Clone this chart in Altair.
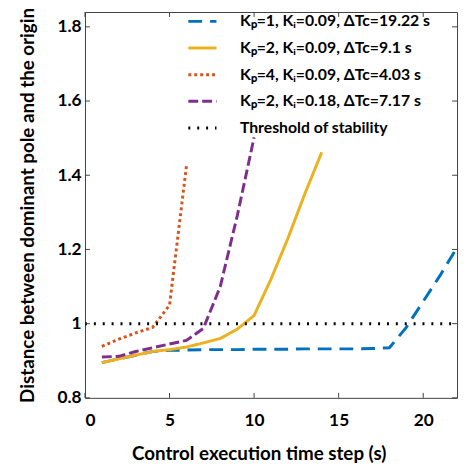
import altair as alt
import pandas as pd

# ---- data ----
series_names = [
    "Kₚ=1, Kᵢ=0.09, ΔTc=19.22 s",
    "Kₚ=2, Kᵢ=0.09, ΔTc=9.1 s",
    "Kₚ=4, Kᵢ=0.09, ΔTc=4.03 s",
    "Kₚ=2, Kᵢ=0.18, ΔTc=7.17 s",
    "Threshold of stability",
]

x_kp1 = [1, 2, 3, 4, 5, 6, 7, 8, 9, 10, 11, 12, 13, 14, 15, 16, 17, 18, 19, 20, 21, 22]
y_kp1 = [0.895, 0.905, 0.915, 0.925, 0.928, 0.929, 0.93, 0.93, 0.93, 0.931, 0.931, 0.931,
         0.932, 0.932, 0.932, 0.932, 0.933, 0.935, 0.99, 1.06, 1.13, 1.205]

x_kp2 = [1, 2, 3, 4, 5, 6, 7, 8, 9, 10, 11, 12, 13, 14]
y_kp2 = [0.895, 0.905, 0.915, 0.925, 0.93, 0.937, 0.948, 0.96, 0.985, 1.022, 1.12, 1.23, 1.35, 1.462]

x_kp4 = [1, 2, 3, 4, 5, 6]
y_kp4 = [0.939, 0.958, 0.975, 0.99, 1.05, 1.425]

x_ki18 = [1, 2, 3, 4, 5, 6, 7, 8, 9, 10]
y_ki18 = [0.91, 0.912, 0.925, 0.935, 0.945, 0.955, 0.987, 1.1, 1.29, 1.502]

x_thr = [0, 22]
y_thr = [1.0, 1.0]

x_ticks = [0, 5, 10, 15, 20]
y_ticks = [0.8, 1.0, 1.2, 1.4, 1.6, 1.8]

colors = ["#0072BD", "#EDB120", "#D95319", "#7E2F8E", "#000000"]
dashes = [[14, 8], [1, 0], [3, 3], [10, 4], [2, 7]]
widths = [3, 3, 3, 3, 2]

rows = []
for name, xs, ys in zip(series_names,
                        [x_kp1, x_kp2, x_kp4, x_ki18, x_thr],
                        [y_kp1, y_kp2, y_kp4, y_ki18, y_thr]):
    for xv, yv in zip(xs, ys):
        rows.append({"series": name, "x": xv, "y": yv})
df = pd.DataFrame(rows)

W, H = 377, 391
FONT = "Lato"

xscale = alt.Scale(domain=[0, 22], nice=False, zero=False)
yscale = alt.Scale(domain=[0.8, 1.84], nice=False, zero=False)

# legend symbol: a long horizontal stroke (57 px) while the entry itself stays 20 px high
SYM = 20
legend = alt.Legend(
    title=None, orient="none", legendX=89 + (57 - SYM) / 2, legendY=-2,
    symbolType="M-1.425,0H1.425", symbolSize=SYM * SYM, symbolStrokeWidth=3,
    symbolFillColor="transparent",
    labelFont=FONT, labelFontSize=16, labelFontWeight="bold", labelColor="#000",
    rowPadding=7, labelOffset=8 + (57 - SYM) / 2, labelLimit=300,
)

lines = alt.Chart(df).mark_line(clip=True).encode(
    x=alt.X("x:Q", scale=xscale,
            axis=alt.Axis(title="Control execution time step (s)", values=x_ticks,
                          ticks=False, domain=False, grid=False, labelPadding=14,
                          titlePadding=16, titleX=176)),
    y=alt.Y("y:Q", scale=yscale,
            axis=alt.Axis(title="Distance between dominant pole and the origin", values=y_ticks,
                          ticks=False, domain=False, grid=False, labelPadding=4,
                          titlePadding=20, format="~g")),
    color=alt.Color("series:N", sort=series_names,
                    scale=alt.Scale(domain=series_names, range=colors), legend=legend),
    strokeDash=alt.StrokeDash("series:N", sort=series_names,
                              scale=alt.Scale(domain=series_names, range=dashes), legend=legend),
    strokeWidth=alt.StrokeWidth("series:N", sort=series_names,
                                scale=alt.Scale(domain=series_names, range=widths), legend=legend),
    order=alt.Order("x:Q"),
)

tick_col = "#404040"
xt = pd.DataFrame({"x": x_ticks})
yt = pd.DataFrame({"y": y_ticks})
tb = alt.Chart(xt).mark_rule(color=tick_col, strokeWidth=1).encode(
    x=alt.X("x:Q", scale=xscale), y=alt.value(H), y2=alt.value(H - 5))
tt = alt.Chart(xt).mark_rule(color=tick_col, strokeWidth=1).encode(
    x=alt.X("x:Q", scale=xscale), y=alt.value(0), y2=alt.value(5))
tl = alt.Chart(yt).mark_rule(color=tick_col, strokeWidth=1).encode(
    y=alt.Y("y:Q", scale=yscale), x=alt.value(0), x2=alt.value(5))
tr = alt.Chart(yt).mark_rule(color=tick_col, strokeWidth=1).encode(
    y=alt.Y("y:Q", scale=yscale), x=alt.value(W - 5), x2=alt.value(W))

chart = alt.layer(lines, tb, tt, tl, tr).properties(
    width=W, height=H,
    background="white",
    autosize=alt.AutoSizeParams(type="none"),
    padding={"left": 78, "top": 1, "right": 2, "bottom": 66},
).configure_view(
    stroke=tick_col, strokeWidth=1, fill="white"
).configure_axis(
    labelFont=FONT, labelFontSize=17.5, labelFontWeight="bold", labelColor="#000",
    titleFont=FONT, titleFontSize=19, titleFontWeight="bold", titleColor="#000",
)

chart.save("out.html", embed_options={"renderer": "svg", "actions": False})
